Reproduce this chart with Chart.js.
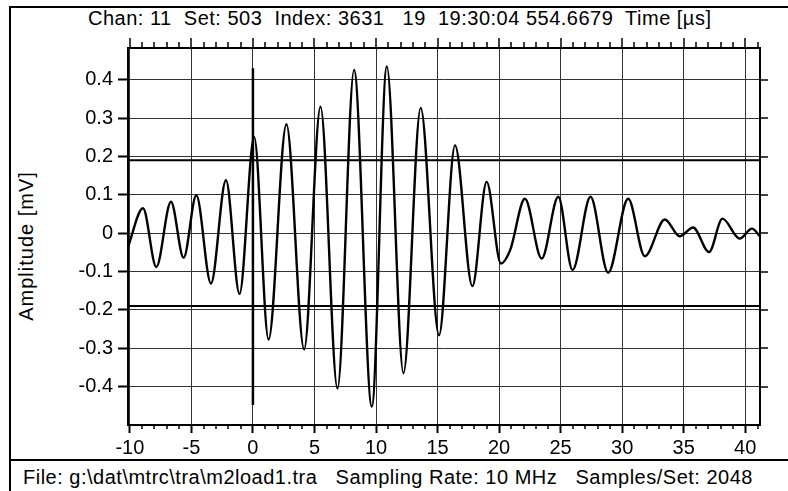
<!DOCTYPE html>
<html lang="en">
<head>
  <meta charset="UTF-8">
  <title>Waveform</title>
  <script src="https://cdn.jsdelivr.net/npm/chart.js"></script>
  <style>
    body {
      margin: 0;
      background: #fff;
      font-family: "Liberation Sans", Arial, sans-serif;
      color: #000;
    }
    #wrap {
      position: relative;
      width: 788px;
      height: 491px;
      overflow: hidden;
      background: #fff;
    }
    .frame {
      position: absolute;
      left: 9px;
      top: 6px;
      width: 800px;
      height: 500px;
      border-left: 2px solid #000;
      border-top: 2px solid #000;
    }
    .sep {
      position: absolute;
      left: 10px;
      top: 459px;
      width: 790px;
      height: 2px;
      background: #000;
    }
    .txt {
      position: absolute;
      font-size: 20px;
      line-height: 22px;
      letter-spacing: 0.5px;
      white-space: pre;
    }
    #header { left: 88px; top: 7px; }
    #footer { left: 23px; top: 466px; }
    #ytitle {
      left: 26px;
      top: 246px;
      letter-spacing: 1px;
      transform: translate(-50%, -50%) rotate(-90deg);
    }
    canvas {
      position: absolute;
      left: 0;
      top: 0;
    }
  </style>
</head>
<body>
  <div id="wrap">
    <div class="frame"></div>
    <div class="sep"></div>
    <div class="txt" id="header">Chan: 11  Set: 503  Index: 3631   19  19:30:04 554.6679  Time [µs]</div>
    <div class="txt" id="footer">File: g:\dat\mtrc\tra\m2load1.tra   Sampling Rate: 10 MHz   Samples/Set: 2048</div>
    <div class="txt" id="ytitle">Amplitude [mV]</div>
    <canvas id="waveChart" width="788" height="491"></canvas>
  </div>

  <script>
    // time in µs, amplitude in mV (extrema of the burst)
    const waveTimes = [-10.15, -8.93, -7.85, -6.66, -5.63, -4.6, -3.41, -2.19, -1.09, 0.1,
      1.27, 2.72, 4.16, 5.49, 6.87, 8.22, 9.66, 10.88, 12.23, 13.63,
      15.12, 16.42, 17.83, 18.99, 20.15, 20.9, 22.1, 23.46, 24.81, 25.97,
      27.43, 28.86, 30.49, 31.84, 33.47, 34.68, 35.76, 37.06, 38.15, 39.55,
      40.55, 41.2];
    const waveAmps = [-0.035, 0.065, -0.088, 0.082, -0.064, 0.099, -0.131, 0.138, -0.158, 0.251,
      -0.277, 0.284, -0.303, 0.33, -0.405, 0.426, -0.452, 0.435, -0.365, 0.327,
      -0.266, 0.229, -0.138, 0.134, -0.079, -0.044, 0.090, -0.066, 0.095, -0.096,
      0.095, -0.103, 0.090, -0.060, 0.036, -0.008, 0.015, -0.049, 0.038, -0.014,
      0.012, -0.008];

    const thresholdLevel = 0.19;
    const triggerTime = 0;
    const triggerSpan = [0.43, -0.448];

    const xRange = [-10.15, 41.2];
    const yRange = [-0.5, 0.483];
    const xTicks = [-10, -5, 0, 5, 10, 15, 20, 25, 30, 35, 40];
    const xMinorTicks = [-10, -9, -8, -7, -6, -5, -4, -3, -2, -1, 0, 1, 2, 3, 4, 5, 6, 7, 8, 9, 10,
      11, 12, 13, 14, 15, 16, 17, 18, 19, 20, 21, 22, 23, 24, 25, 26, 27, 28, 29, 30,
      31, 32, 33, 34, 35, 36, 37, 38, 39, 40, 41];
    const yTicks = [-0.4, -0.3, -0.2, -0.1, 0, 0.1, 0.2, 0.3, 0.4];

    const axisDecor = {
      id: 'axisDecor',
      afterDraw(chart) {
        const { ctx, chartArea: a, scales: { x, y } } = chart;
        ctx.save();
        ctx.strokeStyle = '#000';
        ctx.lineWidth = 2;
        ctx.beginPath();
        ctx.moveTo(a.left, a.top);
        ctx.lineTo(a.right, a.top);
        ctx.lineTo(a.right, a.bottom);
        ctx.stroke();

        ctx.lineWidth = 1.5;
        xMinorTicks.forEach(v => {
          const px = Math.round(x.getPixelForValue(v));
          const major = v % 5 === 0;
          ctx.beginPath();
          ctx.moveTo(px, a.top);
          ctx.lineTo(px, a.top - (major ? 10 : 6));
          if (!major) {
            ctx.moveTo(px, a.bottom);
            ctx.lineTo(px, a.bottom + 4);
          }
          ctx.stroke();
        });
        yTicks.forEach(v => {
          const py = Math.round(y.getPixelForValue(v));
          ctx.beginPath();
          ctx.moveTo(a.right, py);
          ctx.lineTo(a.right + 8, py);
          ctx.stroke();
        });
        ctx.restore();
      }
    };

    const tickFont = { family: '"Liberation Sans", Arial, sans-serif', size: 20 };

    new Chart(document.getElementById('waveChart'), {
      type: 'line',
      data: {
        datasets: [
          {
            data: waveTimes.map((t, i) => ({ x: t, y: waveAmps[i] })),
            borderColor: '#000',
            borderWidth: 2.4,
            pointRadius: 0,
            cubicInterpolationMode: 'monotone'
          },
          {
            data: [{ x: xRange[0], y: thresholdLevel }, { x: xRange[1], y: thresholdLevel }],
            borderColor: '#000',
            borderWidth: 2,
            pointRadius: 0
          },
          {
            data: [{ x: xRange[0], y: -thresholdLevel }, { x: xRange[1], y: -thresholdLevel }],
            borderColor: '#000',
            borderWidth: 2,
            pointRadius: 0
          },
          {
            data: [{ x: triggerTime, y: triggerSpan[0] }, { x: triggerTime, y: triggerSpan[1] }],
            borderColor: '#000',
            borderWidth: 2.5,
            pointRadius: 0
          }
        ]
      },
      options: {
        responsive: false,
        animation: false,
        layout: { padding: { top: 48, right: 28, left: 0, bottom: 0 } },
        plugins: {
          legend: { display: false },
          tooltip: { enabled: false }
        },
        scales: {
          x: {
            type: 'linear',
            min: xRange[0],
            max: xRange[1],
            afterBuildTicks: s => { s.ticks = xTicks.map(v => ({ value: v })); },
            afterFit: s => { s.height = 66; },
            grid: { color: '#333', lineWidth: 1, tickLength: 8, tickColor: '#000', tickWidth: 2 },
            border: { display: true, color: '#000', width: 2 },
            ticks: {
              color: '#000',
              font: tickFont,
              padding: 3,
              maxRotation: 0,
              autoSkip: false,
              callback: v => String(v)
            }
          },
          y: {
            min: yRange[0],
            max: yRange[1],
            afterBuildTicks: s => { s.ticks = yTicks.map(v => ({ value: v })); },
            afterFit: s => { s.width = 128; },
            grid: { color: '#333', lineWidth: 1, tickLength: 10, tickColor: '#000', tickWidth: 2 },
            border: { display: true, color: '#000', width: 2 },
            ticks: {
              color: '#000',
              font: tickFont,
              padding: 5,
              autoSkip: false,
              callback: v => (v === 0 ? '0' : v.toFixed(1))
            }
          }
        }
      },
      plugins: [axisDecor]
    });
  </script>
</body>
</html>
